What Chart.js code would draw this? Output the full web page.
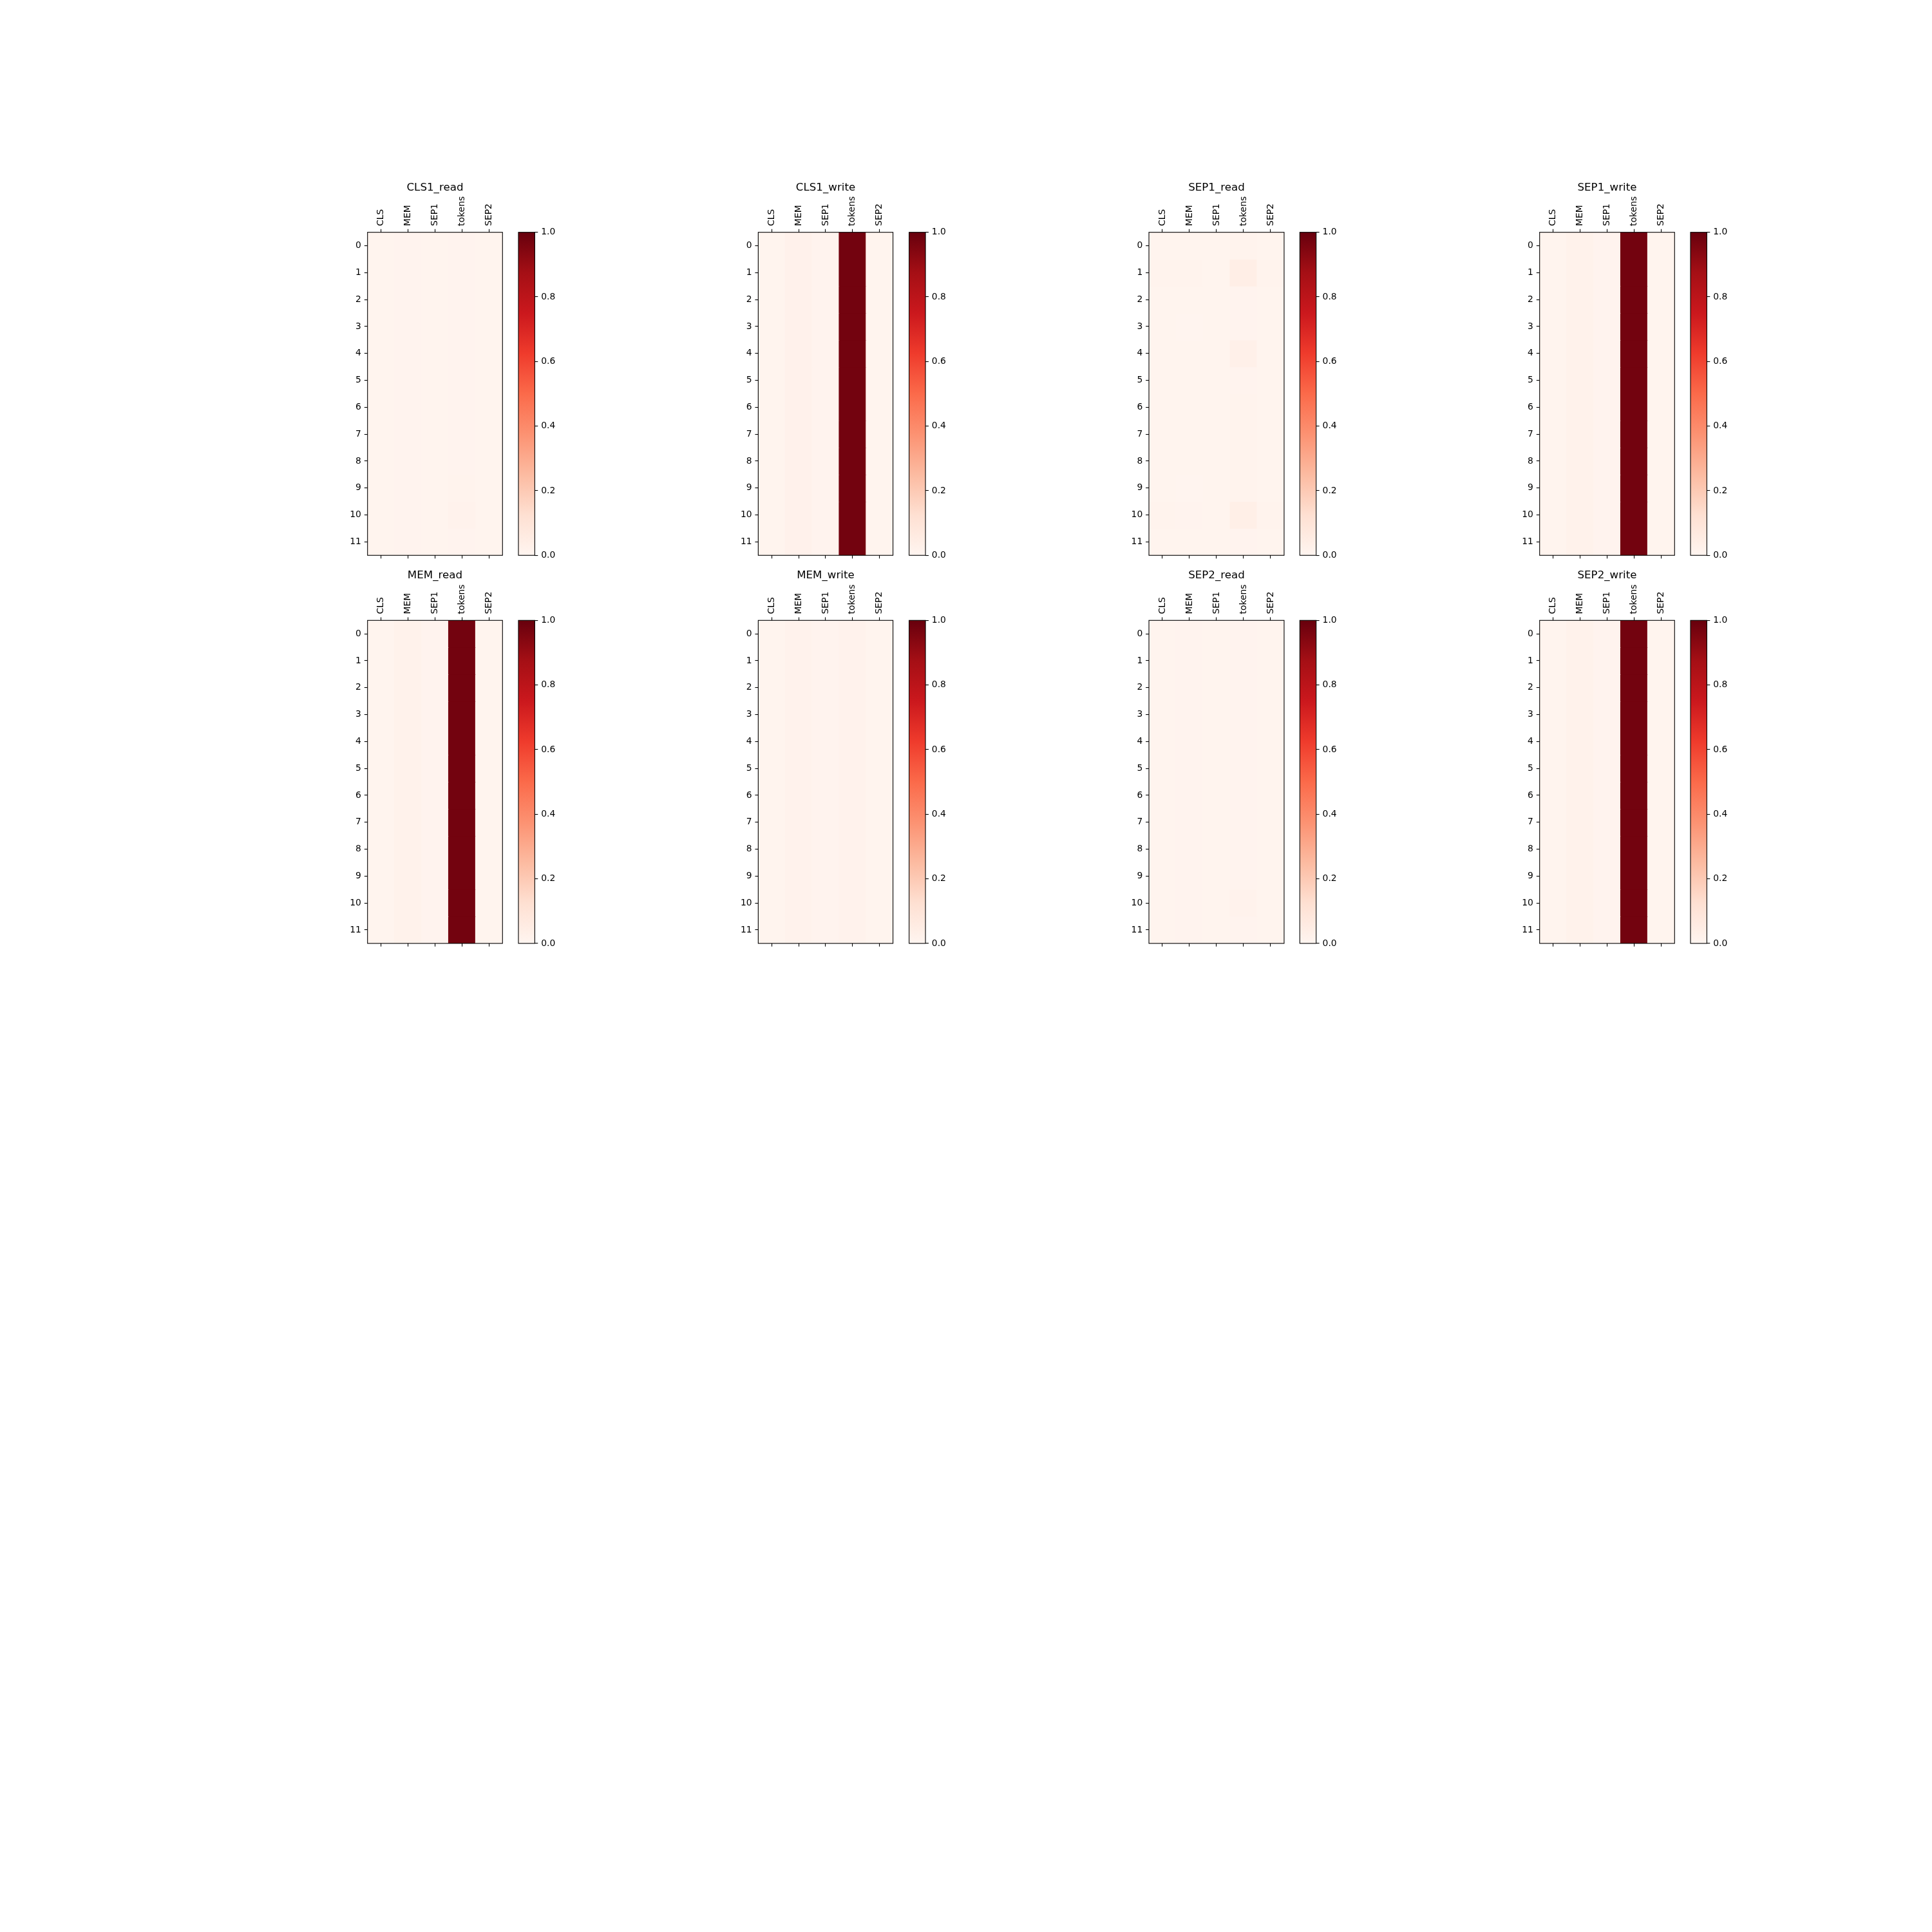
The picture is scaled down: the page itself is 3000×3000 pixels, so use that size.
<!DOCTYPE html>
<html>
<head>
<meta charset="utf-8">
<script src="https://cdn.jsdelivr.net/npm/chart.js@4.4.1/dist/chart.umd.min.js"></script>
<style>
  html, body { margin: 0; padding: 0; background: #ffffff; }
  #fig { position: relative; width: 3000px; height: 3000px; background: #ffffff; overflow: hidden; }
  #fig canvas { position: absolute; }
</style>
</head>
<body>
<div id="fig"></div>
<script>
// ---------------- data ----------------
const categories = ['CLS', 'MEM', 'SEP1', 'tokens', 'SEP2'];
const rowLabels = ['0', '1', '2', '3', '4', '5', '6', '7', '8', '9', '10', '11'];
const colorbarTicks = [0.0, 0.2, 0.4, 0.6, 0.8, 1.0];
const panelTitles = ['CLS1_read', 'CLS1_write', 'SEP1_read', 'SEP1_write',
                     'MEM_read', 'MEM_write', 'SEP2_read', 'SEP2_write'];

// rows 0..11, columns CLS, MEM, SEP1, tokens, SEP2
const CLS1_read = [
  [0.008, 0.010, 0.008, 0.010, 0.008],
  [0.008, 0.010, 0.008, 0.010, 0.008],
  [0.008, 0.010, 0.008, 0.010, 0.008],
  [0.008, 0.010, 0.008, 0.010, 0.008],
  [0.008, 0.010, 0.008, 0.010, 0.008],
  [0.008, 0.010, 0.008, 0.010, 0.008],
  [0.008, 0.010, 0.008, 0.010, 0.008],
  [0.008, 0.010, 0.008, 0.010, 0.008],
  [0.008, 0.010, 0.008, 0.010, 0.008],
  [0.008, 0.010, 0.008, 0.012, 0.008],
  [0.008, 0.010, 0.008, 0.018, 0.008],
  [0.008, 0.010, 0.008, 0.010, 0.008]
];
const CLS1_write = [
  [0.008, 0.022, 0.010, 0.975, 0.008],
  [0.008, 0.022, 0.010, 0.975, 0.008],
  [0.008, 0.022, 0.010, 0.975, 0.008],
  [0.008, 0.022, 0.010, 0.975, 0.008],
  [0.008, 0.022, 0.010, 0.975, 0.008],
  [0.008, 0.022, 0.010, 0.975, 0.008],
  [0.008, 0.022, 0.010, 0.975, 0.008],
  [0.008, 0.022, 0.010, 0.975, 0.008],
  [0.008, 0.022, 0.010, 0.975, 0.008],
  [0.008, 0.022, 0.010, 0.975, 0.008],
  [0.008, 0.022, 0.010, 0.975, 0.008],
  [0.008, 0.022, 0.010, 0.975, 0.008]
];
const SEP1_read = [
  [0.008, 0.008, 0.008, 0.012, 0.008],
  [0.012, 0.014, 0.008, 0.040, 0.012],
  [0.008, 0.008, 0.008, 0.010, 0.008],
  [0.008, 0.004, 0.008, 0.010, 0.008],
  [0.008, 0.008, 0.008, 0.028, 0.008],
  [0.008, 0.008, 0.008, 0.010, 0.008],
  [0.008, 0.008, 0.008, 0.012, 0.008],
  [0.008, 0.008, 0.008, 0.012, 0.008],
  [0.008, 0.008, 0.008, 0.012, 0.008],
  [0.008, 0.004, 0.008, 0.012, 0.008],
  [0.012, 0.010, 0.008, 0.038, 0.012],
  [0.008, 0.008, 0.008, 0.010, 0.008]
];
const SEP1_write = [
  [0.008, 0.020, 0.010, 0.975, 0.008],
  [0.008, 0.020, 0.010, 0.975, 0.008],
  [0.008, 0.020, 0.010, 0.975, 0.008],
  [0.008, 0.020, 0.010, 0.975, 0.008],
  [0.008, 0.020, 0.010, 0.975, 0.008],
  [0.008, 0.020, 0.010, 0.975, 0.008],
  [0.008, 0.020, 0.010, 0.975, 0.008],
  [0.008, 0.020, 0.010, 0.975, 0.008],
  [0.008, 0.020, 0.010, 0.975, 0.008],
  [0.008, 0.020, 0.010, 0.975, 0.008],
  [0.008, 0.020, 0.010, 0.975, 0.008],
  [0.008, 0.020, 0.010, 0.975, 0.008]
];
const MEM_read = [
  [0.008, 0.020, 0.010, 0.975, 0.008],
  [0.008, 0.020, 0.010, 0.975, 0.008],
  [0.008, 0.020, 0.010, 0.975, 0.008],
  [0.008, 0.020, 0.010, 0.975, 0.008],
  [0.008, 0.020, 0.010, 0.975, 0.008],
  [0.008, 0.020, 0.010, 0.975, 0.008],
  [0.008, 0.020, 0.010, 0.975, 0.008],
  [0.008, 0.020, 0.010, 0.975, 0.008],
  [0.008, 0.020, 0.010, 0.975, 0.008],
  [0.008, 0.020, 0.010, 0.975, 0.008],
  [0.008, 0.020, 0.010, 0.975, 0.008],
  [0.008, 0.020, 0.010, 0.975, 0.008]
];
const MEM_write = [
  [0.008, 0.018, 0.010, 0.015, 0.008],
  [0.008, 0.018, 0.010, 0.015, 0.008],
  [0.008, 0.018, 0.010, 0.015, 0.008],
  [0.008, 0.018, 0.010, 0.015, 0.008],
  [0.008, 0.018, 0.010, 0.015, 0.008],
  [0.008, 0.018, 0.010, 0.015, 0.008],
  [0.008, 0.018, 0.010, 0.015, 0.008],
  [0.008, 0.018, 0.010, 0.015, 0.008],
  [0.008, 0.018, 0.010, 0.015, 0.008],
  [0.008, 0.018, 0.010, 0.015, 0.008],
  [0.008, 0.018, 0.010, 0.015, 0.008],
  [0.008, 0.018, 0.010, 0.015, 0.008]
];
const SEP2_read = [
  [0.008, 0.009, 0.008, 0.010, 0.008],
  [0.008, 0.009, 0.008, 0.010, 0.008],
  [0.008, 0.009, 0.008, 0.010, 0.008],
  [0.008, 0.009, 0.008, 0.010, 0.008],
  [0.008, 0.009, 0.008, 0.010, 0.008],
  [0.008, 0.009, 0.008, 0.010, 0.008],
  [0.008, 0.009, 0.008, 0.010, 0.008],
  [0.008, 0.009, 0.008, 0.010, 0.008],
  [0.008, 0.009, 0.008, 0.010, 0.008],
  [0.008, 0.009, 0.008, 0.010, 0.008],
  [0.008, 0.009, 0.008, 0.015, 0.008],
  [0.008, 0.009, 0.008, 0.010, 0.008]
];
const SEP2_write = [
  [0.008, 0.020, 0.010, 0.975, 0.008],
  [0.008, 0.020, 0.010, 0.975, 0.008],
  [0.008, 0.020, 0.010, 0.975, 0.008],
  [0.008, 0.020, 0.010, 0.975, 0.008],
  [0.008, 0.020, 0.010, 0.975, 0.008],
  [0.008, 0.020, 0.010, 0.975, 0.008],
  [0.008, 0.020, 0.010, 0.975, 0.008],
  [0.008, 0.020, 0.010, 0.975, 0.008],
  [0.008, 0.020, 0.010, 0.975, 0.008],
  [0.008, 0.020, 0.010, 0.975, 0.008],
  [0.008, 0.020, 0.010, 0.975, 0.008],
  [0.008, 0.020, 0.010, 0.975, 0.008]
];
const panelValues = [CLS1_read, CLS1_write, SEP1_read, SEP1_write,
                     MEM_read, MEM_write, SEP2_read, SEP2_write];

// ---------------- style / layout ----------------
const REDS = [[255,245,240],[254,224,210],[252,187,161],[252,146,114],[251,106,74],
              [239,59,44],[203,24,29],[165,15,21],[103,0,13]];
function reds(v) {
  v = Math.min(1, Math.max(0, v));
  const x = v * (REDS.length - 1);
  const i = Math.min(REDS.length - 2, Math.floor(x));
  const t = x - i;
  const a = REDS[i], b = REDS[i + 1];
  return 'rgb(' + a.map((c, k) => Math.round(c + (b[k] - c) * t)).join(',') + ')';
}

const FONT = 'DejaVu Sans';
const TICK_SIZE = 13.9;
const TITLE_SIZE = 16.7;
const TICK_LEN = 4.9;
const TICK_PAD = 4.9;
const LINE_W = 1.1;

const LEFT0 = 570.7, COL_STEP = 606.67;
const ROW_TOP = [360.7, 963.3];
const CELL = 41.8;
const HM_W = CELL * categories.length;
const HM_H = CELL * rowLabels.length;
const CB_OFFSET = 234.3, CB_W = 25.4;
const TITLE_GAP = 69.3; // title center above heatmap top

Chart.defaults.font.family = FONT;
Chart.defaults.font.size = TICK_SIZE;
Chart.defaults.color = '#000000';
Chart.defaults.animation = false;

const framePlugin = {
  id: 'frame',
  afterDraw(chart) {
    const a = chart.chartArea;
    const ctx = chart.ctx;
    ctx.save();
    ctx.strokeStyle = '#000000';
    ctx.lineWidth = LINE_W;
    ctx.strokeRect(a.left, a.top, a.right - a.left, a.bottom - a.top);
    ctx.restore();
  }
};

const fig = document.getElementById('fig');
function makeCanvas(left, top, w, h) {
  const c = document.createElement('canvas');
  c.width = w; c.height = h;
  c.style.left = left + 'px'; c.style.top = top + 'px';
  c.style.width = w + 'px'; c.style.height = h + 'px';
  fig.appendChild(c);
  return c;
}

function tickGrid() {
  return { display: true, drawOnChartArea: false, drawTicks: true, offset: false,
           tickLength: TICK_LEN, color: '#000000', lineWidth: LINE_W };
}

function heatmap(p, hmL, hmT) {
  const vals = panelValues[p];
  const YW = 60, TOPH = 100, BOTH = 12;
  const fx = hmL - Math.floor(hmL), fy = hmT - Math.floor(hmT);
  const sideW = YW + fx;
  const cw = Math.ceil(2 * sideW + HM_W);
  const ch = Math.ceil(TOPH + fy + HM_H + BOTH + 4);
  const canvas = makeCanvas(Math.floor(hmL) - YW, Math.floor(hmT) - TOPH, cw, ch);
  const lh = TITLE_SIZE * 1.2;
  const tickLH = TICK_SIZE * 1.2;
  const padTop = TOPH + fy - TITLE_GAP - lh / 2;
  const topAxisH = TOPH + fy - padTop - lh;

  const datasets = rowLabels.map((lab, r) => ({
    label: lab,
    data: categories.map(() => [r - 0.5, r + 0.5]),
    backgroundColor: categories.map((c, j) => reds(vals[r][j])),
    borderWidth: 0,
    inflateAmount: 0.5,
    barPercentage: 1.0,
    categoryPercentage: 1.0,
    grouped: false
  }));

  new Chart(canvas, {
    type: 'bar',
    data: { labels: categories, datasets },
    options: {
      responsive: false,
      devicePixelRatio: 1,
      animation: false,
      layout: { padding: { left: 0, top: 0, right: 0,
                           bottom: ch - (TOPH + fy + HM_H + BOTH) } },
      plugins: {
        legend: { display: false },
        tooltip: { enabled: false },
        title: { display: true, text: panelTitles[p], color: '#000000',
                 font: { family: FONT, size: TITLE_SIZE, weight: 'normal', lineHeight: 1.2 },
                 padding: { top: padTop, bottom: 0 } }
      },
      scales: {
        x: {
          type: 'category', position: 'top', offset: true,
          grid: tickGrid(), border: { display: false },
          ticks: { autoSkip: false, minRotation: 90, maxRotation: 90, padding: TICK_PAD,
                   labelOffset: tickLH, font: { family: FONT, size: TICK_SIZE } },
          afterFit(s) { s.height = topAxisH; }
        },
        x2: {
          type: 'category', position: 'bottom', offset: true, labels: categories,
          grid: tickGrid(), border: { display: false },
          ticks: { display: false },
          afterFit(s) { s.height = BOTH; }
        },
        y: {
          type: 'linear', position: 'left', reverse: true, min: -0.5, max: rowLabels.length - 0.5,
          grid: tickGrid(), border: { display: false },
          afterBuildTicks(s) { s.ticks = rowLabels.map((_, i) => ({ value: i })); },
          ticks: { padding: TICK_PAD, font: { family: FONT, size: TICK_SIZE },
                   callback: (v, i) => rowLabels[i] },
          afterFit(s) { s.width = sideW; }
        },
        y2: {
          type: 'linear', position: 'right', min: 0, max: 1,
          grid: { display: false }, border: { display: false },
          ticks: { display: false },
          afterFit(s) { s.width = sideW; }
        }
      }
    },
    plugins: [framePlugin]
  });
}

function colorbar(cbL, cbT) {
  const LP = 4, RW = 60, TP = 20, BP = 20;
  const fx = cbL - Math.floor(cbL), fy = cbT - Math.floor(cbT);
  const cw = Math.ceil(LP + fx + CB_W + RW + 4);
  const ch = Math.ceil(TP + fy + HM_H + BP);
  const canvas = makeCanvas(Math.floor(cbL) - LP, Math.floor(cbT) - TP, cw, ch);

  new Chart(canvas, {
    type: 'bar',
    data: {
      labels: [''],
      datasets: [{
        data: [[colorbarTicks[0], colorbarTicks[colorbarTicks.length - 1]]],
        backgroundColor(ctx) {
          const area = ctx.chart.chartArea;
          if (!area) return reds(0.5);
          const g = ctx.chart.ctx.createLinearGradient(0, area.bottom, 0, area.top);
          REDS.forEach((c, i) => g.addColorStop(i / (REDS.length - 1), 'rgb(' + c.join(',') + ')'));
          return g;
        },
        borderWidth: 0,
        barPercentage: 1.0,
        categoryPercentage: 1.0
      }]
    },
    options: {
      responsive: false,
      devicePixelRatio: 1,
      animation: false,
      layout: { padding: { left: LP + fx, top: TP + fy, right: cw - (LP + fx + CB_W + RW),
                           bottom: ch - (TP + fy + HM_H) } },
      plugins: { legend: { display: false }, tooltip: { enabled: false }, title: { display: false } },
      scales: {
        x: { type: 'category', display: false, offset: true },
        y: {
          type: 'linear', position: 'right', min: 0, max: 1,
          grid: tickGrid(), border: { display: false },
          afterBuildTicks(s) { s.ticks = colorbarTicks.map(v => ({ value: v })); },
          ticks: { padding: TICK_PAD, font: { family: FONT, size: TICK_SIZE },
                   callback: (v) => Number(v).toFixed(1) },
          afterFit(s) { s.width = RW; }
        }
      }
    },
    plugins: [framePlugin]
  });
}

panelTitles.forEach((t, p) => {
  const col = p % 4, row = Math.floor(p / 4);
  const hmL = LEFT0 + col * COL_STEP;
  const hmT = ROW_TOP[row];
  heatmap(p, hmL, hmT);
  colorbar(hmL + CB_OFFSET, hmT);
});
</script>
</body>
</html>
